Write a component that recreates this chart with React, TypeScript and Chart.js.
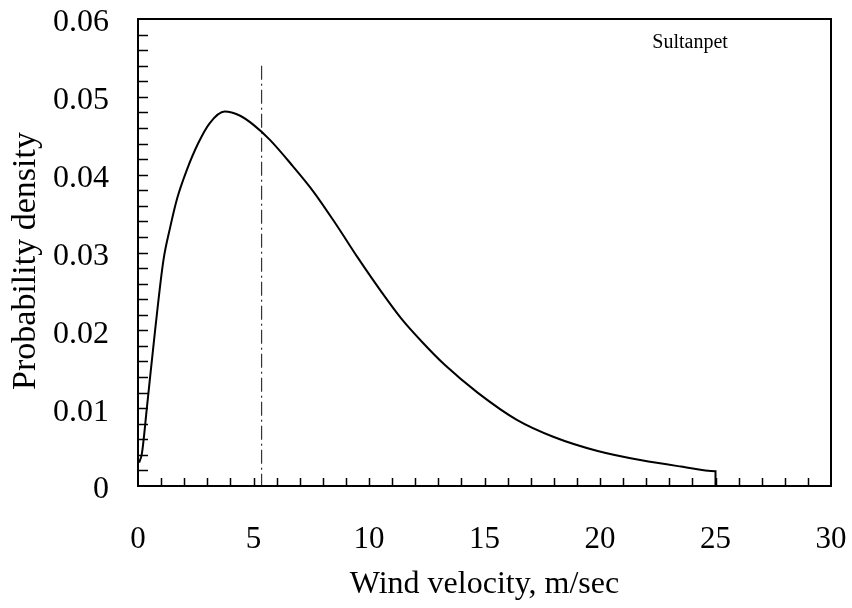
import React, { useEffect, useRef } from "react";
import { Chart, registerables } from "chart.js";

Chart.register(...registerables);

// Wind velocity (m/sec) and probability density
const windSpeed = [0.05, 0.17, 0.39, 0.74, 1.1, 1.39, 1.7, 2.1, 2.6, 3.1, 3.75, 4.4, 5.0, 5.7, 6.7, 7.6, 8.6, 9.5, 10.5, 11.4, 12.3, 13.3, 14.7, 16.4, 18.0, 19.9, 21.8, 23.5, 25.0, 25.0];
const density = [0.003, 0.0042, 0.0102, 0.0200, 0.0290, 0.0332, 0.0370, 0.0405, 0.0440, 0.0466, 0.0481, 0.0476, 0.0464, 0.0445, 0.0411, 0.0378, 0.0335, 0.0294, 0.0251, 0.0215, 0.0185, 0.0155, 0.0120, 0.0085, 0.0063, 0.0045, 0.0033, 0.0025, 0.0019, 0];

// scanned fold mark near 5 m/sec
const markX = [5.35, 5.35];
const markY = [0.054, 0];

const xTickValues = [0, 5, 10, 15, 20, 25, 30];
const xTickLabels = ["0", "5", "10", "15", "20", "25", "30"];
const yTickValues = [0, 0.01, 0.02, 0.03, 0.04, 0.05, 0.06];
const yTickLabels = ["0", "0.01", "0.02", "0.03", "0.04", "0.05", "0.06"];
const xMinorStep = 1;
const yMinorStep = 0.002;

const xTitle = "Wind velocity, m/sec";
const yTitle = "Probability density  ";
const siteLabel = "Sultanpet";
const siteLabelX = 23.9;
const siteLabelY = 0.057;

const SERIF = '"Liberation Serif", "Times New Roman", serif';

const framePlugin = {
  id: "frame",
  afterDraw(chart: any) {
    const { ctx, chartArea: a, scales } = chart;
    const xs = scales.x;
    const ys = scales.y;
    ctx.save();
    ctx.strokeStyle = "#000";
    ctx.lineWidth = 1.5;
    ctx.beginPath();
    const nX = Math.round((xs.max - xs.min) / xMinorStep);
    for (let i = 1; i < nX; i++) {
      const px = Math.round(xs.getPixelForValue(xs.min + i * xMinorStep)) + 0.5;
      ctx.moveTo(px, a.bottom);
      ctx.lineTo(px, a.bottom - 8);
    }
    const nY = Math.round((ys.max - ys.min) / yMinorStep);
    for (let i = 1; i < nY; i++) {
      const py = Math.round(ys.getPixelForValue(ys.min + i * yMinorStep)) + 0.5;
      ctx.moveTo(a.left, py);
      ctx.lineTo(a.left + 10, py);
    }
    ctx.stroke();
    ctx.lineWidth = 2;
    ctx.strokeRect(a.left, a.top, a.right - a.left, a.bottom - a.top);
    ctx.fillStyle = "#000";
    ctx.font = "20px " + SERIF;
    ctx.textAlign = "center";
    ctx.textBaseline = "middle";
    ctx.fillText(siteLabel, xs.getPixelForValue(siteLabelX), ys.getPixelForValue(siteLabelY));
    ctx.restore();
  },
};

const zeroPad = (s: any) => {
  s.paddingLeft = 0;
  s.paddingRight = 0;
  s.paddingTop = 0;
  s.paddingBottom = 0;
};

export default function App() {
  const ref = useRef<HTMLCanvasElement | null>(null);

  useEffect(() => {
    if (!ref.current) return;
    const chart = new Chart(ref.current, {
      type: "scatter",
      data: {
        datasets: [
          {
            data: windSpeed.map((x, i) => ({ x, y: density[i] })),
            showLine: true,
            borderColor: "#000",
            borderWidth: 2,
            pointRadius: 0,
            cubicInterpolationMode: "monotone",
            fill: false,
          },
          {
            data: markX.map((x, i) => ({ x, y: markY[i] })),
            showLine: true,
            borderColor: "#333",
            borderWidth: 1.2,
            borderDash: [14, 4, 2, 4],
            pointRadius: 0,
            fill: false,
          },
        ],
      },
      options: {
        animation: false,
        responsive: false,
        devicePixelRatio: 1,
        layout: { padding: { top: 19, right: 21, left: 0, bottom: 0 } },
        plugins: { legend: { display: false }, tooltip: { enabled: false } },
        scales: {
          x: {
            type: "linear",
            min: 0,
            max: 30,
            grid: { display: false, drawTicks: false },
            border: { display: false },
            afterFit: (s: any) => {
              s.height = 122;
              zeroPad(s);
            },
            afterBuildTicks: (s: any) => {
              s.ticks = xTickValues.map((v) => ({ value: v }));
            },
            ticks: {
              padding: 35,
              color: "#000",
              font: { family: SERIF, size: 31 },
              maxRotation: 0,
              autoSkip: false,
              callback: (v: any) => xTickLabels[xTickValues.indexOf(Number(v))] ?? "",
            },
            title: {
              display: true,
              text: xTitle,
              color: "#000",
              font: { family: SERIF, size: 32 },
              padding: { top: 0, bottom: 4 },
            },
          },
          y: {
            type: "linear",
            min: 0,
            max: 0.06,
            grid: { display: false, drawTicks: false },
            border: { display: false },
            afterFit: (s: any) => {
              s.width = 138;
              zeroPad(s);
            },
            afterBuildTicks: (s: any) => {
              s.ticks = yTickValues.map((v) => ({ value: v }));
            },
            ticks: {
              padding: 29,
              labelOffset: 4,
              color: "#000",
              font: { family: SERIF, size: 32 },
              autoSkip: false,
              callback: (v: any) => {
                const i = yTickValues.findIndex((t) => Math.abs(t - Number(v)) < 1e-9);
                return i >= 0 ? yTickLabels[i] : "";
              },
            },
            title: {
              display: true,
              text: yTitle,
              color: "#000",
              font: { family: SERIF, size: 34 },
              padding: { top: 6, bottom: 0 },
            },
          },
        },
      },
      plugins: [framePlugin],
    } as any);
    return () => chart.destroy();
  }, []);

  return (
    <div style={{ position: "fixed", left: 0, top: 0, width: 852, height: 608, background: "#fff" }}>
      <canvas ref={ref} width={852} height={608} style={{ display: "block" }} />
    </div>
  );
}
